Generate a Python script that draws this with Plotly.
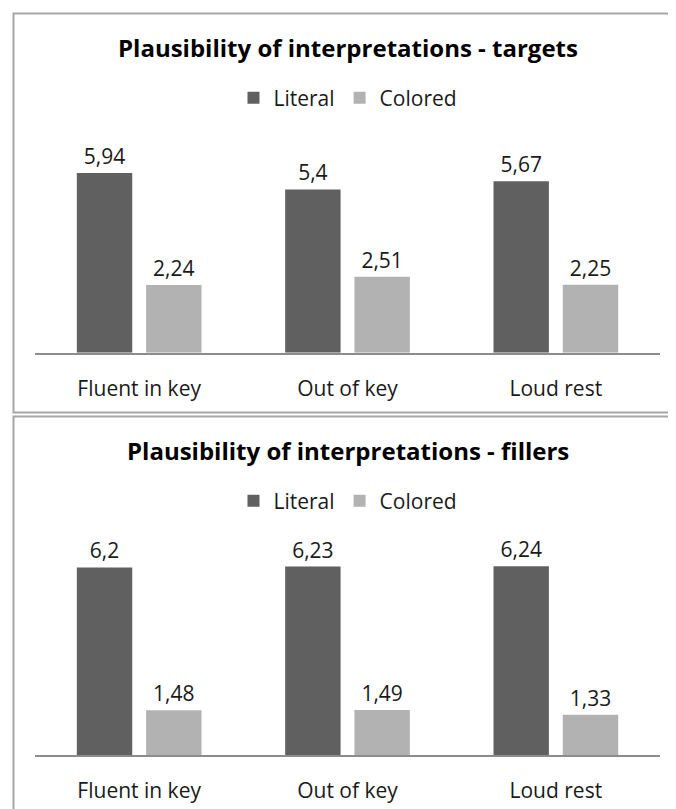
import plotly.graph_objects as go
from plotly.subplots import make_subplots

categories = ["Fluent in key", "Out of key", "Loud rest"]
targets_literal = [5.94, 5.40, 5.67]
targets_colored = [2.24, 2.51, 2.25]
fillers_literal = [6.20, 6.23, 6.24]
fillers_colored = [1.48, 1.49, 1.33]
titles = ["Plausibility of interpretations - targets", "Plausibility of interpretations - fillers"]
series_names = ["Literal", "Colored"]
series_colors = ["#606060", "#b2b2b2"]

# page body has an 8px margin; work in reference pixel coords and shift
OFF = 8
W, H = 676 - OFF, 809 - OFF
FONT = "Open Sans"


def px(x):
    return (x - OFF) / W


def py(y):
    return 1 - (y - OFF) / H


def fmt(v):
    s = f"{v:.2f}".rstrip("0").rstrip(".")
    return s.replace(".", ",")


fig = make_subplots(rows=2, cols=1)

panels = [(targets_literal, targets_colored), (fillers_literal, fillers_colored)]
for i, (lit, col) in enumerate(panels):
    legend_id = "legend" if i == 0 else "legend2"
    for name, vals, color in zip(series_names, (lit, col), series_colors):
        fig.add_trace(
            go.Bar(
                x=categories, y=vals, name=name,
                marker=dict(color=color, line=dict(width=0)),
                text=[fmt(v) for v in vals], textposition="outside",
                textfont=dict(size=21, color="#1a1a1a", family=FONT),
                cliponaxis=False, legend=legend_id,
                hoverinfo="skip",
            ),
            row=i + 1, col=1,
        )

xdom = [px(35), px(660)]
ydoms = [[py(352.7), py(141)], [py(755), py(543.3)]]

for i in range(2):
    ax = "xaxis" if i == 0 else "xaxis2"
    ay = "yaxis" if i == 0 else "yaxis2"
    fig.layout[ax].update(
        domain=xdom, showline=True, linecolor="#8c8c8c", linewidth=1.5,
        showgrid=False, zeroline=False, ticks="", ticklabelstandoff=16,
        tickfont=dict(size=21, color="#1a1a1a", family=FONT),
    )
    fig.layout[ay].update(domain=ydoms[i], range=[0, 7], visible=False)

# panel borders
fig.add_shape(type="rect", xref="paper", yref="paper",
              x0=px(13.5), x1=px(700), y0=py(412.5), y1=py(13.5),
              line=dict(color="#a6a6a6", width=2), fillcolor="rgba(0,0,0,0)")
fig.add_shape(type="rect", xref="paper", yref="paper",
              x0=px(13.5), x1=px(700), y0=py(840), y1=py(416.5),
              line=dict(color="#a6a6a6", width=2), fillcolor="rgba(0,0,0,0)")

for t, yc in zip(titles, [47, 450]):
    fig.add_annotation(text=f"<b>{t}</b>", xref="paper", yref="paper",
                       x=px(348), y=py(yc), showarrow=False,
                       xanchor="center", yanchor="middle",
                       font=dict(size=24, color="#000000", family=FONT))

legend_common = dict(orientation="h", xanchor="center", yanchor="middle",
                     font=dict(size=21, color="#1a1a1a", family=FONT),
                     bgcolor="rgba(0,0,0,0)", itemclick=False, itemdoubleclick=False,
                     itemwidth=30)
fig.update_layout(
    width=W, height=H, margin=dict(l=0, r=0, t=0, b=0),
    paper_bgcolor="white", plot_bgcolor="white",
    barmode="group", bargap=0.335, bargroupgap=0.2,
    legend=dict(x=px(348), y=py(98), **legend_common),
    legend2=dict(x=px(348), y=py(501), **legend_common),
    showlegend=True,
)

fig.write_html("out.html")
